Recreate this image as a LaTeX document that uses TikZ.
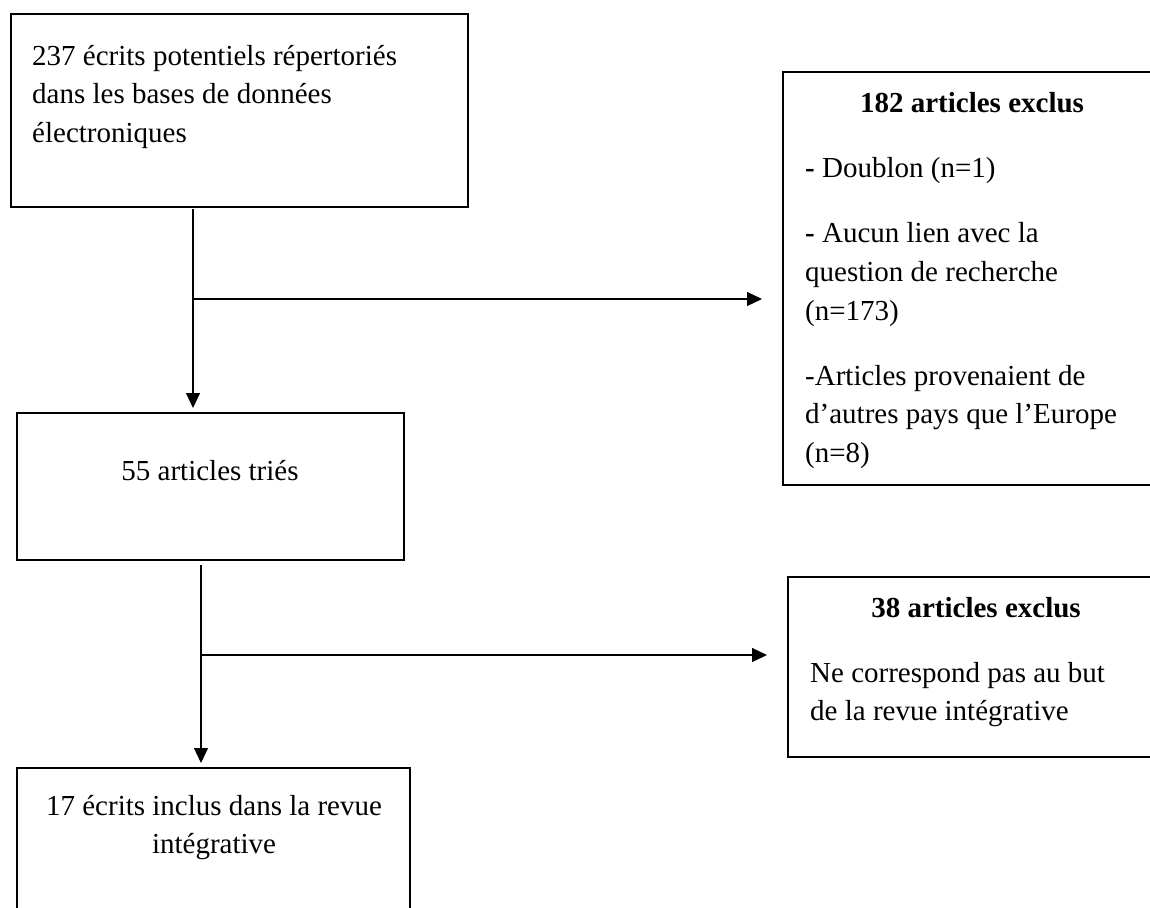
\documentclass[tikz,border=0pt]{standalone}
\usepackage{fontspec}
\setmainfont{Liberation Serif}
\usetikzlibrary{arrows.meta}
\begin{document}
\begin{tikzpicture}[x=1pt,y=-1pt,
  box/.style={draw, line width=2pt, inner sep=0pt, outer sep=0pt, anchor=north west},
  conn/.style={line width=1.2pt},
  arr/.style={conn, -{Triangle[length=15pt,width=14pt]}},
  txt/.style={inner sep=0pt, anchor=base west, font=\fontsize{29}{39}\selectfont},
  ctxt/.style={inner sep=0pt, anchor=base, font=\fontsize{29}{39}\selectfont},
  ttl/.style={inner sep=0pt, anchor=base, font=\fontsize{29}{39}\selectfont\bfseries}]
\useasboundingbox (0,0) rectangle (1150,907);
\clip (0,0) rectangle (1150,907);
% boxes
\node[box, minimum width=457pt, minimum height=193pt] (b1) at (11,14) {};
\node[box, minimum width=377pt, minimum height=413pt] (b182) at (783,72) {};
\node[box, minimum width=387pt, minimum height=147pt] (b55) at (17,413) {};
\node[box, minimum width=372pt, minimum height=180pt] (b38) at (788,577) {};
\node[box, minimum width=393pt, minimum height=147pt] (b17) at (17,768) {};
% texts
\node[txt] (t1a) at (32,65) {237 écrits potentiels répertoriés};
\node[txt] (t1b) at (32,103) {dans les bases de données};
\node[txt] (t1c) at (32,142) {électroniques};
\node[ttl] (t182) at (972,112) {182 articles exclus};
\node[txt] (t182a) at (805,177) {\textbf{-} Doublon (n=1)};
\node[txt] (t182b) at (805,242) {\textbf{-} Aucun lien avec la};
\node[txt] (t182c) at (805,281) {question de recherche};
\node[txt] (t182d) at (805,320) {(n=173)};
\node[txt] (t182e) at (805,385) {-Articles provenaient de};
\node[txt] (t182f) at (805,423) {d’autres pays que l’Europe};
\node[txt] (t182g) at (805,462) {(n=8)};
\node[ctxt] (t55) at (210,480) {55 articles triés};
\node[ttl] (t38) at (976,617) {38 articles exclus};
\node[txt] (t38a) at (810,682) {Ne correspond pas au but};
\node[txt] (t38b) at (810,720) {de la revue intégrative};
\node[ctxt] (t17a) at (214,815) {17 écrits inclus dans la revue};
\node[ctxt] (t17b) at (214,853) {intégrative};
% connectors
\coordinate (j1) at (193,299);
\coordinate (j2) at (201,655);
\draw[arr, shorten <=2pt, shorten >=5pt] (b1.south -| j1) -- (b55.north -| j1);
\draw[arr, shorten >=21pt] (j1) -- (b182.west |- j1);
\draw[arr, shorten <=5pt, shorten >=5pt] (b55.south -| j2) -- (b17.north -| j2);
\draw[arr, shorten >=21pt] (j2) -- (b38.west |- j2);
\end{tikzpicture}
\end{document}
